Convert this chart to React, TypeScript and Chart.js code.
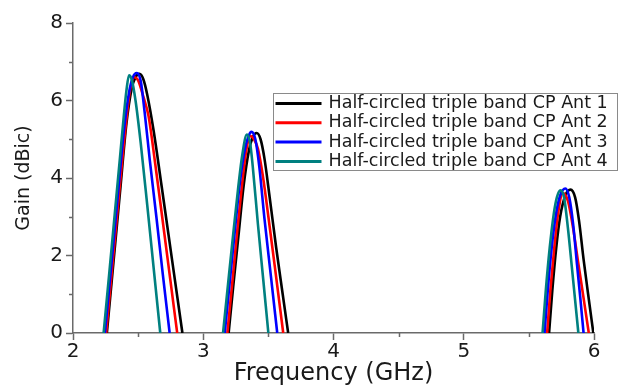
import React, { useEffect, useRef } from "react";
import { Chart, registerables } from "chart.js";

Chart.register(...registerables);

const seriesLabels = [
  "Half-circled triple band CP Ant 1",
  "Half-circled triple band CP Ant 2",
  "Half-circled triple band CP Ant 3",
  "Half-circled triple band CP Ant 4",
];
const seriesColors = ["#000000", "#ff0000", "#0000ff", "#008080"];

// Ant 1 (black)
const ant1Freq = [
  2.26, 2.31, 2.36, 2.41, 2.45, 2.48, 2.51, 2.54, 2.57, 2.62, 2.68, 2.76, 2.84,
  3.0,
  3.195, 3.23, 3.27, 3.31, 3.35, 3.38, 3.41, 3.44, 3.47, 3.51, 3.56, 3.61, 3.652,
  4.5,
  5.655, 5.68, 5.71, 5.74, 5.78, 5.82, 5.855, 5.885, 5.92, 5.955, 5.995,
];
const ant1Gain = [
  0, 1.8, 3.6, 5.4, 6.3, 6.6, 6.69, 6.55, 6.15, 5.2, 3.8, 1.9, 0,
  null,
  0, 1.2, 2.5, 3.8, 4.7, 5.05, 5.16, 5.0, 4.5, 3.5, 2.2, 1.0, 0,
  null,
  0, 1.1, 2.2, 3.0, 3.55, 3.7, 3.5, 2.9, 1.9, 1.0, 0,
];

// Ant 2 (red)
const ant2Freq = [
  2.255, 2.3, 2.35, 2.4, 2.44, 2.47, 2.5, 2.54, 2.58, 2.63, 2.7, 2.75, 2.8,
  3.0,
  3.185, 3.22, 3.26, 3.3, 3.33, 3.36, 3.39, 3.42, 3.46, 3.5, 3.55, 3.614,
  4.5,
  5.64, 5.665, 5.695, 5.725, 5.76, 5.8, 5.84, 5.875, 5.92, 5.96,
];
const ant2Gain = [
  0, 1.65, 3.45, 5.2, 6.3, 6.6, 6.52, 6.1, 5.6, 4.4, 2.6, 1.3, 0,
  null,
  0, 1.2, 2.6, 3.9, 4.7, 5.08, 5.0, 4.75, 4.0, 3.0, 1.7, 0,
  null,
  0, 1.1, 2.2, 3.1, 3.61, 3.4, 2.7, 1.9, 0.9, 0,
];

// Ant 3 (blue)
const ant3Freq = [
  2.245, 2.29, 2.34, 2.39, 2.43, 2.46, 2.49, 2.52, 2.55, 2.59, 2.64, 2.69, 2.742,
  3.0,
  3.165, 3.2, 3.24, 3.28, 3.32, 3.35, 3.37, 3.4, 3.43, 3.47, 3.52, 3.568,
  4.5,
  5.62, 5.645, 5.675, 5.705, 5.74, 5.78, 5.81, 5.84, 5.87, 5.895, 5.92,
];
const ant3Gain = [
  0, 1.6, 3.4, 5.2, 6.2, 6.6, 6.71, 6.5, 5.7, 4.45, 3.0, 1.5, 0,
  null,
  0, 1.2, 2.55, 3.85, 4.75, 5.1, 5.19, 5.0, 4.3, 2.95, 1.45, 0,
  null,
  0, 1.1, 2.2, 3.0, 3.55, 3.73, 3.5, 2.8, 1.75, 0.9, 0,
];

// Ant 4 (teal)
const ant4Freq = [
  2.235, 2.28, 2.32, 2.36, 2.39, 2.41, 2.43, 2.45, 2.48, 2.52, 2.57, 2.62, 2.67,
  3.0,
  3.152, 3.19, 3.23, 3.27, 3.3, 3.335, 3.36, 3.38, 3.42, 3.46, 3.5,
  4.5,
  5.605, 5.63, 5.66, 5.69, 5.715, 5.742, 5.77, 5.8, 5.83, 5.855, 5.88,
];
const ant4Gain = [
  0, 1.6, 3.05, 4.5, 5.6, 6.25, 6.65, 6.55, 6.0, 4.9, 3.3, 1.65, 0,
  null,
  0, 1.25, 2.55, 3.8, 4.6, 5.12, 4.9, 4.3, 2.8, 1.4, 0,
  null,
  0, 1.1, 2.2, 3.05, 3.5, 3.68, 3.5, 2.7, 1.7, 0.85, 0,
];

const xMin = 2;
const xMax = 6;
const xStep = 1;
const yMin = 0;
const yMax = 8;
const yStep = 2;
const xMinorTicks = [2.5, 3.5, 4.5, 5.5];
const yMinorTicks = [1, 3, 5, 7];

const xTitle = "Frequency (GHz)";
const yTitle = "Gain (dBic)";

const AXIS_COLOR = "#6a6a6a";
const TEXT_COLOR = "#1a1a1a";
const FONT = "'DejaVu Sans', 'Liberation Sans', Arial, sans-serif";

function toPoints(freq: number[], gain: (number | null)[]) {
  return freq.map((x, i) => ({ x, y: gain[i] }));
}

const minorTickPlugin = {
  id: "minorTicks",
  afterDraw(chart: any) {
    const { ctx, scales } = chart;
    const xs = scales.x;
    const ys = scales.y;
    ctx.save();
    ctx.strokeStyle = AXIS_COLOR;
    ctx.lineWidth = 1.5;
    ctx.beginPath();
    for (const v of xMinorTicks) {
      const px = Math.round(xs.getPixelForValue(v)) + 0.5;
      ctx.moveTo(px, xs.top);
      ctx.lineTo(px, xs.top + 4);
    }
    for (const v of yMinorTicks) {
      const py = Math.round(ys.getPixelForValue(v)) + 0.5;
      ctx.moveTo(ys.right - 4, py);
      ctx.lineTo(ys.right, py);
    }
    ctx.stroke();
    ctx.restore();
  },
};

const boxedLegendPlugin = {
  id: "boxedLegend",
  afterDraw(chart: any) {
    const { ctx, chartArea } = chart;
    const left = Math.round(chartArea.left + 200) + 0.5;
    const top = Math.round(chartArea.top + 70) + 0.5;
    const width = 344;
    const rowH = 19.3;
    const height = 77;
    ctx.save();
    ctx.fillStyle = "#ffffff";
    ctx.fillRect(left, top, width, height);
    ctx.strokeStyle = "#8a8a8a";
    ctx.lineWidth = 1;
    ctx.strokeRect(left, top, width, height);
    ctx.font = `17.5px ${FONT}`;
    ctx.textBaseline = "middle";
    ctx.textAlign = "left";
    chart.data.datasets.forEach((ds: any, i: number) => {
      const cy = top + 10 + i * rowH;
      ctx.strokeStyle = ds.borderColor;
      ctx.lineWidth = 3;
      ctx.beginPath();
      ctx.moveTo(left + 2, cy);
      ctx.lineTo(left + 48, cy);
      ctx.stroke();
      ctx.fillStyle = TEXT_COLOR;
      ctx.fillText(ds.label, left + 55, cy);
    });
    ctx.restore();
  },
};

export default function App() {
  const canvasRef = useRef<HTMLCanvasElement | null>(null);

  useEffect(() => {
    if (!canvasRef.current) return;
    const series = [
      toPoints(ant1Freq, ant1Gain),
      toPoints(ant2Freq, ant2Gain),
      toPoints(ant3Freq, ant3Gain),
      toPoints(ant4Freq, ant4Gain),
    ];
    const chart = new Chart(canvasRef.current, {
      type: "line",
      data: {
        datasets: series.map((data, i) => ({
          label: seriesLabels[i],
          data,
          borderColor: seriesColors[i],
          backgroundColor: seriesColors[i],
          borderWidth: 2.6,
          pointRadius: 0,
          fill: false,
          spanGaps: false,
          cubicInterpolationMode: "monotone" as const,
          order: 3 - i,
        })),
      },
      options: {
        animation: false,
        responsive: false,
        devicePixelRatio: 1,
        layout: { padding: { left: 0, right: 25, top: 23, bottom: 0 } },
        plugins: {
          legend: { display: false },
          tooltip: { enabled: false },
        },
        scales: {
          x: {
            type: "linear",
            min: xMin,
            max: xMax,
            afterFit: (s: any) => {
              s.height = 53;
            },
            ticks: {
              stepSize: xStep,
              color: TEXT_COLOR,
              padding: 2,
              font: { family: FONT, size: 20, lineHeight: 1 },
            },
            grid: {
              display: true,
              drawOnChartArea: false,
              drawTicks: true,
              tickLength: 7,
              tickColor: AXIS_COLOR,
              tickWidth: 1.5,
            },
            border: { display: true, color: AXIS_COLOR, width: 1.5 },
            title: {
              display: true,
              text: xTitle,
              color: TEXT_COLOR,
              padding: { top: 0, bottom: 0 },
              font: { family: FONT, size: 24, lineHeight: 1 },
            },
          },
          y: {
            type: "linear",
            min: yMin,
            max: yMax,
            afterFit: (s: any) => {
              s.width = 73;
            },
            ticks: {
              stepSize: yStep,
              color: TEXT_COLOR,
              padding: 3,
              font: { family: FONT, size: 20, lineHeight: 1 },
            },
            grid: {
              display: true,
              drawOnChartArea: false,
              drawTicks: true,
              tickLength: 7,
              tickColor: AXIS_COLOR,
              tickWidth: 1.5,
            },
            border: { display: true, color: AXIS_COLOR, width: 1.5 },
            title: {
              display: true,
              text: yTitle,
              color: TEXT_COLOR,
              padding: { top: 15, bottom: 0 },
              font: { family: FONT, size: 19, lineHeight: 1 },
            },
          },
        },
      },
      plugins: [minorTickPlugin, boxedLegendPlugin],
    });
    return () => chart.destroy();
  }, []);

  return (
    <div style={{ position: "fixed", left: 0, top: 0, width: 619, height: 386, background: "#ffffff" }}>
      <canvas ref={canvasRef} width={619} height={386} style={{ display: "block" }} />
    </div>
  );
}
